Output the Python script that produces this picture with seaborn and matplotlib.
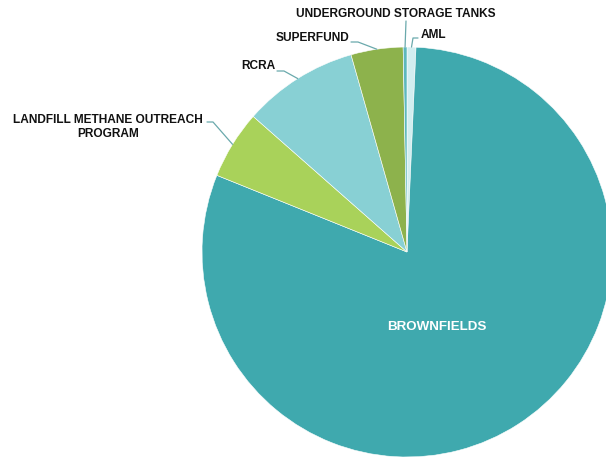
import numpy as np
import matplotlib.pyplot as plt
import seaborn as sns

# slice data, in clockwise order starting at 12 o'clock
programs = ['AML', 'BROWNFIELDS', 'LANDFILL METHANE OUTREACH\nPROGRAM', 'RCRA', 'SUPERFUND', 'UNDERGROUND STORAGE TANKS']
shares = [0.7, 80.4, 5.4, 9.1, 4.1, 0.3]
colors = ['#d2eef0', '#3fa9ae', '#a9d25a', '#88d0d4', '#8db24c', '#5cb8bd']

sns.set_theme(style='white')
plt.rcParams['font.family'] = ['Liberation Sans', 'DejaVu Sans']

W, H = 606, 459
fig = plt.figure(figsize=(W / 100, H / 100), dpi=100)
ax = fig.add_axes([0, 0, 1, 1])

cx, cy, R = 407, H - 252, 205
wedges, _ = ax.pie(
    shares,
    colors=colors,
    startangle=90,
    counterclock=False,
    center=(cx, cy),
    radius=R,
    wedgeprops=dict(edgecolor='white', linewidth=0.4),
)
ax.set_xlim(0, W)
ax.set_ylim(0, H)
ax.set_aspect('equal')
ax.axis('off')

# outside labels: text position, text alignment, elbow point (pixel coords, y down)
label_layout = {
    'AML': ((421, 35), 'left', (413, 38)),
    'LANDFILL METHANE OUTREACH\nPROGRAM': ((108, 127), 'center', (213, 122)),
    'RCRA': ((258, 66), 'center', (284, 71)),
    'SUPERFUND': ((312, 38), 'center', (358, 42)),
    'UNDERGROUND STORAGE TANKS': ((396, 14), 'center', (406, 21)),
}
line_starts = {
    'AML': (418, 38),
    'LANDFILL METHANE OUTREACH\nPROGRAM': (207, 122),
    'RCRA': (277, 71),
    'SUPERFUND': (351, 42),
    'UNDERGROUND STORAGE TANKS': (406, 21),
}

for w, name in zip(wedges, programs):
    if name == 'BROWNFIELDS':
        ax.text(437, H - 327, name, color='white', fontsize=9.6, fontweight='bold',
                ha='center', va='center')
        continue
    mid = np.deg2rad((w.theta1 + w.theta2) / 2)
    rim = (cx + R * np.cos(mid), cy + R * np.sin(mid))
    (tx, ty), ha, (ex, ey) = label_layout[name]
    sx, sy = line_starts[name]
    ax.plot([sx, ex, rim[0]], [H - sy, H - ey, rim[1]], color='#6aa9ac', lw=0.9)
    ax.text(tx, H - ty, name, fontsize=8.6, fontweight='bold', ha=ha, va='center',
            color='#111111', linespacing=1.3, multialignment='center')

fig.savefig('out.png', dpi=100)
